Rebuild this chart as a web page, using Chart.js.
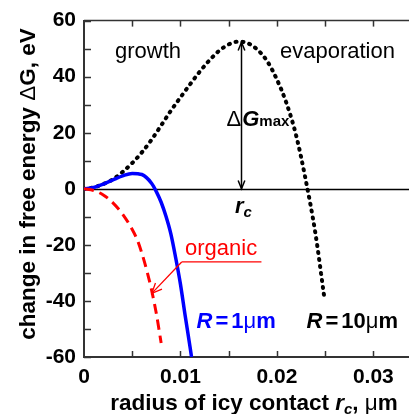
<!DOCTYPE html>
<html>
<head>
<meta charset="utf-8">
<script src="https://cdn.jsdelivr.net/npm/chart.js@4.4.0/dist/chart.umd.min.js"></script>
<style>
  html, body { margin: 0; padding: 0; background: #fff; }
  #wrap { width: 409px; height: 414px; }
</style>
</head>
<body>
<div id="wrap"><canvas id="c" width="409" height="414"></canvas></div>
<script>
// R = 1 um curve (blue, solid)
const r1X = [0, 0.001, 0.002, 0.003, 0.004, 0.005, 0.006, 0.007, 0.0075, 0.008, 0.0085, 0.009, 0.0095, 0.010, 0.0105, 0.011, 0.01115];
const r1Y = [0, 0.5, 1.7, 3.2, 4.6, 5.5, 5.1, 2.0, -1.0, -4.8, -9.8, -16, -24.5, -34, -45.5, -56.5, -60];

// organic curve (red, dashed)
const orgX = [0, 0.001, 0.002, 0.003, 0.004, 0.005, 0.0055, 0.006, 0.0065, 0.007, 0.0075, 0.008];
const orgY = [0, -0.6, -2.2, -5, -9, -14.5, -18, -23, -29, -36, -44.5, -55];

// R = 10 um curve (black, dotted)
const r10X = [0, 0.001, 0.002, 0.003, 0.004, 0.005, 0.006, 0.007, 0.008, 0.009, 0.010, 0.011, 0.012,
              0.013, 0.014, 0.015, 0.016, 0.017, 0.018, 0.019, 0.020, 0.021, 0.022, 0.023, 0.024, 0.0249];
const r10Y = [0, 0.5, 1.7, 3.4, 6.0, 9.2, 13.0, 17.5, 22.6, 27.8, 32.6, 37.3, 41.8,
              45.8, 49.2, 51.5, 52.5, 51.9, 49.6, 45.5, 39.0, 30.5, 19.0, 3.0, -16.0, -38.3];

// axis ranges and labelled ticks
const xMin = 0, xMax = 0.0337, xStep = 0.005;
const yMin = -60, yMax = 60, yStep = 10;
const xLabelTicks = [0, 0.01, 0.02, 0.03];
const yLabelTicks = [-60, -40, -20, 0, 20, 40, 60];

// annotation anchors (data units)
const gmaxX = 0.0163, gmaxTop = 52.3;
const orgArrow = { x1: 0.01013, y1: -26.1, x2: 0.00703, y2: -37.3, lineEnd: 0.0184 };

const pts = (xs, ys) => xs.map((v, i) => ({ x: v, y: ys[i] }));
const near = (list, v, eps) => list.some(t => Math.abs(t - v) < eps);

const SANS = '"Liberation Sans", Arial, sans-serif';

function drawRuns(ctx, x, y, parts, align) {
  // parts: [text, font, dy, gapBefore]
  let w = 0;
  parts.forEach(p => { ctx.font = p[1]; w += (p[3] || 0) + ctx.measureText(p[0]).width; });
  let cx = align === 'center' ? x - w / 2 : x;
  ctx.textAlign = 'left';
  ctx.textBaseline = 'alphabetic';
  parts.forEach(p => {
    ctx.font = p[1];
    cx += (p[3] || 0);
    ctx.fillText(p[0], cx, y + (p[2] || 0));
    cx += ctx.measureText(p[0]).width;
  });
}

function openArrow(ctx, tx, ty, fx, fy, len, ang) {
  const a = Math.atan2(ty - fy, tx - fx);
  ctx.beginPath();
  ctx.moveTo(tx - len * Math.cos(a - ang), ty - len * Math.sin(a - ang));
  ctx.lineTo(tx, ty);
  ctx.lineTo(tx - len * Math.cos(a + ang), ty - len * Math.sin(a + ang));
  ctx.stroke();
}

function seg(ctx, x1, y1, x2, y2) {
  ctx.beginPath(); ctx.moveTo(x1, y1); ctx.lineTo(x2, y2); ctx.stroke();
}

const deco = {
  id: 'deco',
  beforeDatasetsDraw(chart) {
    const { ctx, chartArea: a, scales: { x, y } } = chart;
    ctx.save();
    // zero line
    ctx.strokeStyle = '#000';
    ctx.lineWidth = 1.3;
    const y0 = Math.round(y.getPixelForValue(0)) + 0.5;
    seg(ctx, a.left, y0, a.right, y0);
    // top frame line
    ctx.strokeStyle = '#333';
    ctx.lineWidth = 1.5;
    seg(ctx, a.left, a.top, a.right, a.top);
    // inward tick marks
    ctx.lineWidth = 1.5;
    x.ticks.forEach(t => {
      const q = t.value / xStep;
      if (Math.abs(q - Math.round(q)) > 1e-6 || t.value <= xMin) return;
      const px = Math.round(x.getPixelForValue(t.value)) + 0.5;
      seg(ctx, px, a.bottom, px, a.bottom - 6);
      seg(ctx, px, a.top, px, a.top + 6);
    });
    y.ticks.forEach(t => {
      const py = Math.round(y.getPixelForValue(t.value)) + 0.5;
      seg(ctx, a.left, py, a.left + 7, py);
    });
    ctx.restore();
  },
  afterDatasetsDraw(chart) {
    const { ctx, scales: { x, y } } = chart;
    ctx.save();
    ctx.fillStyle = '#000';

    // region labels
    drawRuns(ctx, 115, 58, [['growth', '22px ' + SANS]], 'left');
    drawRuns(ctx, 280, 58, [['evaporation', '22px ' + SANS]], 'left');

    // delta G max double arrow
    const ax = Math.round(x.getPixelForValue(gmaxX)) + 0.5;
    const aTop = y.getPixelForValue(gmaxTop);
    const aBot = y.getPixelForValue(0);
    ctx.strokeStyle = '#000';
    ctx.lineWidth = 1.5;
    seg(ctx, ax, aTop, ax, aBot);
    openArrow(ctx, ax, aTop, ax, aTop + 20, 9, 0.38);
    openArrow(ctx, ax, aBot, ax, aBot - 20, 9, 0.38);
    drawRuns(ctx, 226.5, 126, [
      ['\u0394', '22px ' + SANS],
      ['G', 'italic bold 22px ' + SANS, 0, 1],
      ['max', 'bold 15px ' + SANS, 0, 0]
    ], 'left');
    drawRuns(ctx, 235, 213, [
      ['r', 'italic bold 22px ' + SANS],
      ['c', 'italic bold 15px ' + SANS, 4, 0]
    ], 'left');

    // organic label with pointer
    ctx.fillStyle = '#ff0000';
    ctx.strokeStyle = '#ff0000';
    ctx.lineWidth = 1.3;
    drawRuns(ctx, 185, 255, [['organic', '22px ' + SANS]], 'left');
    const ox1 = x.getPixelForValue(orgArrow.x1), oy1 = y.getPixelForValue(orgArrow.y1);
    const ox2 = x.getPixelForValue(orgArrow.x2), oy2 = y.getPixelForValue(orgArrow.y2);
    seg(ctx, ox1, oy1, x.getPixelForValue(orgArrow.lineEnd), oy1);
    seg(ctx, ox1, oy1, ox2, oy2);
    openArrow(ctx, ox2, oy2, ox1, oy1, 11, 0.42);

    // curve labels
    ctx.fillStyle = '#0000ff';
    drawRuns(ctx, 196.5, 328, [
      ['R', 'italic bold 22px ' + SANS],
      ['=', 'bold 22px ' + SANS, 0, 3],
      ['1', 'bold 22px ' + SANS, 0, 3],
      ['\u03bc', '22px ' + SANS],
      ['m', 'bold 22px ' + SANS]
    ], 'left');
    ctx.fillStyle = '#000';
    drawRuns(ctx, 306.5, 328, [
      ['R', 'italic bold 22px ' + SANS],
      ['=', 'bold 22px ' + SANS, 0, 3],
      ['10', 'bold 22px ' + SANS, 0, 3],
      ['\u03bc', '22px ' + SANS],
      ['m', 'bold 22px ' + SANS]
    ], 'left');

    // axis titles
    drawRuns(ctx, 254, 410, [
      ['radius of icy contact ', 'bold 22.5px ' + SANS],
      ['r', 'italic bold 22.5px ' + SANS],
      ['c', 'italic bold 15px ' + SANS, 4, 0],
      [', ', 'bold 22.5px ' + SANS],
      ['\u03bc', '22.5px ' + SANS],
      ['m', 'bold 22.5px ' + SANS]
    ], 'center');
    ctx.translate(35, 184);
    ctx.rotate(-Math.PI / 2);
    drawRuns(ctx, 0, 0, [
      ['change in free energy ', 'bold 22.5px ' + SANS],
      ['\u0394', '22.5px ' + SANS],
      ['G', 'bold 22.5px ' + SANS],
      [', eV', 'bold 22.5px ' + SANS]
    ], 'center');
    ctx.restore();
  }
};

new Chart(document.getElementById('c'), {
  type: 'line',
  data: {
    datasets: [
      { label: 'organic', data: pts(orgX, orgY), borderColor: '#ff0000', borderWidth: 3,
        borderDash: [10, 6], pointRadius: 0, cubicInterpolationMode: 'monotone', fill: false },
      { label: 'R = 1um', data: pts(r1X, r1Y), borderColor: '#0000ff', borderWidth: 3.5,
        pointRadius: 0, cubicInterpolationMode: 'monotone', fill: false },
      { label: 'R = 10um', data: pts(r10X, r10Y), borderColor: '#000000', borderWidth: 4,
        borderDash: [1, 6], borderCapStyle: 'round', pointRadius: 0,
        cubicInterpolationMode: 'monotone', fill: false }
    ]
  },
  options: {
    responsive: false,
    animation: false,
    devicePixelRatio: 1,
    layout: { padding: { top: 20, right: 0, bottom: 0, left: 0 } },
    plugins: { legend: { display: false }, tooltip: { enabled: false } },
    scales: {
      x: {
        type: 'linear', min: xMin, max: xMax,
        afterFit: s => { s.height = 57; },
        grid: { display: false, drawTicks: false },
        border: { display: true, color: '#333', width: 2 },
        ticks: {
          stepSize: xStep, includeBounds: false, autoSkip: false, maxRotation: 0, padding: 8, color: '#000',
          font: { family: SANS, size: 21, weight: 'bold' },
          callback: v => near(xLabelTicks, v, 1e-7) ? (v === 0 ? '0' : v.toFixed(2)) : ''
        }
      },
      y: {
        type: 'linear', min: yMin, max: yMax,
        afterFit: s => { s.width = 84; },
        grid: { display: false, drawTicks: false },
        border: { display: true, color: '#333', width: 2 },
        ticks: {
          stepSize: yStep, autoSkip: false, padding: 8, color: '#000',
          font: { family: SANS, size: 21, weight: 'bold' },
          callback: v => near(yLabelTicks, v, 1e-6) ? String(v) : ''
        }
      }
    }
  },
  plugins: [deco]
});
</script>
</body>
</html>
